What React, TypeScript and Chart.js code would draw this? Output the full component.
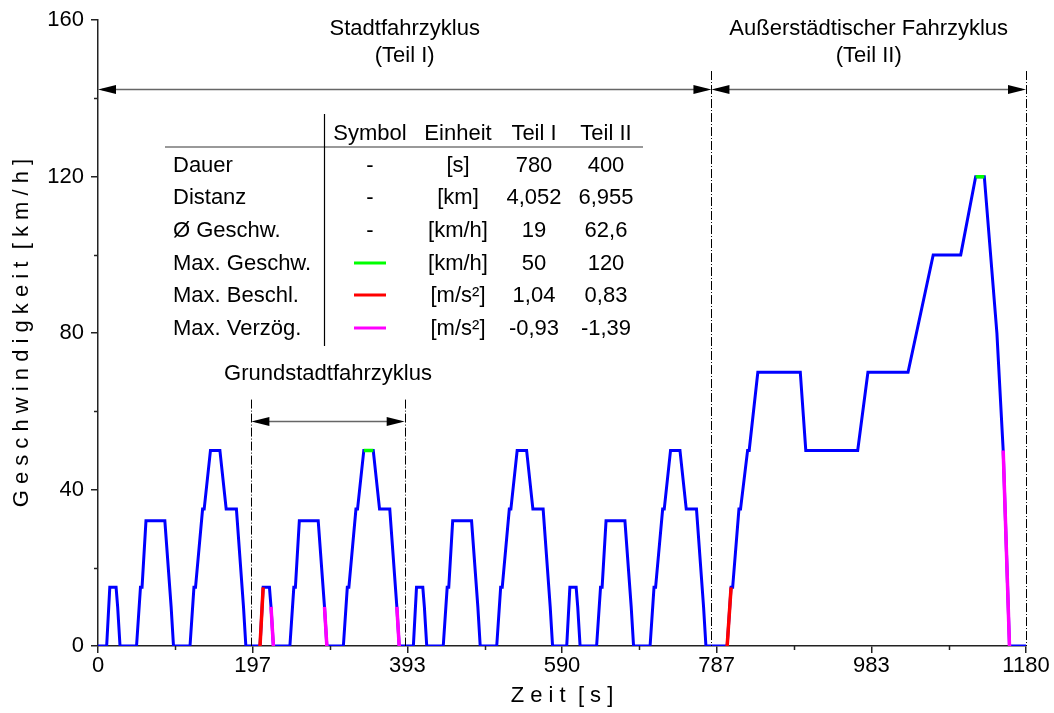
import React, { useEffect, useRef } from 'react';
import { Chart, registerables } from 'chart.js';

Chart.register(...registerables);

const FONT = '"Liberation Sans", Arial, Helvetica, sans-serif';
const AXIS_COLOR = '#222';

// ---- Data: ECE urban cycle (Grundstadtfahrzyklus), relative time [s] / speed [km/h]
const ECE_T = [0, 11, 15, 23, 25, 28, 49, 54, 56, 61, 85, 93, 96, 117, 122, 124, 133, 135, 143, 155, 163, 176, 185, 188, 195];
const ECE_V = [0, 0, 15, 15, 10, 0, 0, 15, 15, 32, 32, 10, 0, 0, 15, 15, 35, 35, 50, 50, 35, 35, 10, 0, 0];
const ECE_REPEATS = 4;
const ECE_LEN = 195;

// ---- Data: extra-urban cycle (Teil II), absolute time [s] / speed [km/h]
const EUDC_T = [780, 800, 805, 807, 815, 817, 826, 828, 839, 893, 900, 966, 979, 1030, 1062, 1097, 1116, 1127, 1143, 1151, 1159, 1180];
const EUDC_V = [0, 0, 15, 15, 35, 35, 50, 50, 70, 70, 50, 50, 70, 70, 100, 100, 120, 120, 80, 50, 0, 0];

// ---- Highlighted segments [t, v]
const MAX_SPEED_SEGS = [[[338, 50], [350, 50]], [[1116, 120], [1127, 120]]];
const MAX_ACCEL_SEGS = [[[206, 0], [210, 15]], [[800, 0], [805, 15]]];
const MAX_DECEL_SEGS = [[[220, 10], [223, 0]], [[288, 10], [291, 0]], [[380, 10], [383, 0]], [[1151, 50], [1159, 0]]];

// ---- Axis
const X_MAX = 1180;
const X_TICK_LABELS = ['0', '197', '393', '590', '787', '983', '1180'];
const Y_MAX = 160;
const Y_STEP = 40;

// ---- Annotations
const PART_BOUNDS = [0, 780, 1180];
const PART_TITLES = [['Stadtfahrzyklus', '(Teil I)'], ['Außerstädtischer Fahrzyklus', '(Teil II)']];
const BASE_BOUNDS = [195, 390];
const BASE_TITLE = 'Grundstadtfahrzyklus';

// ---- Table
const TABLE_HEAD = ['Symbol', 'Einheit', 'Teil I', 'Teil II'];
const ROW_LABELS = ['Dauer', 'Distanz', 'Ø Geschw.', 'Max. Geschw.', 'Max. Beschl.', 'Max. Verzög.'];
const ROW_UNITS = ['[s]', '[km]', '[km/h]', '[km/h]', '[m/s²]', '[m/s²]'];
const TEIL1 = ['780', '4,052', '19', '50', '1,04', '-0,93'];
const TEIL2 = ['400', '6,955', '62,6', '120', '0,83', '-1,39'];
const ROW_SYMBOL: (string | null)[] = [null, null, null, '#00ff00', '#ff0000', '#ff00ff'];

function buildMain() {
  const pts: { x: number; y: number }[] = [];
  for (let c = 0; c < ECE_REPEATS; c++) {
    ECE_T.forEach((t, i) => {
      if (c > 0 && i === 0) return;
      pts.push({ x: c * ECE_LEN + t, y: ECE_V[i] });
    });
  }
  EUDC_T.forEach((t, i) => {
    if (i === 0) return;
    pts.push({ x: t, y: EUDC_V[i] });
  });
  return pts;
}

function buildSegs(segs: number[][][]) {
  const pts: { x: number; y: number | null }[] = [];
  segs.forEach((s) => {
    s.forEach(([t, v]) => pts.push({ x: t, y: v }));
    pts.push({ x: s[s.length - 1][0], y: null });
  });
  return pts;
}

const overlay = {
  id: 'overlay',
  afterDraw(chart: any) {
    const { ctx, chartArea: ca, scales } = chart;
    const xs = scales.x;
    const ys = scales.y;
    const X = (v: number) => xs.getPixelForValue(v);
    const Y = (v: number) => ys.getPixelForValue(v);
    ctx.save();

    // minor ticks
    ctx.strokeStyle = AXIS_COLOR;
    ctx.lineWidth = 1.5;
    for (let i = 0; i < X_TICK_LABELS.length - 1; i++) {
      const px = Math.round(X(((i + 0.5) * X_MAX) / (X_TICK_LABELS.length - 1))) + 0.5;
      ctx.beginPath();
      ctx.moveTo(px, ca.bottom);
      ctx.lineTo(px, ca.bottom + 4);
      ctx.stroke();
    }
    for (let v = Y_STEP / 2; v < Y_MAX; v += Y_STEP) {
      const py = Math.round(Y(v)) + 0.5;
      ctx.beginPath();
      ctx.moveTo(ca.left - 4, py);
      ctx.lineTo(ca.left, py);
      ctx.stroke();
    }

    // dash-dot boundary lines
    ctx.strokeStyle = '#000';
    ctx.lineWidth = 1;
    ctx.setLineDash([9, 2, 1, 2]);
    const vline = (t: number, top: number) => {
      const px = Math.round(X(t)) + 0.5;
      ctx.beginPath();
      ctx.moveTo(px, Y(top));
      ctx.lineTo(px, ca.bottom);
      ctx.stroke();
    };
    vline(PART_BOUNDS[1], 147);
    vline(PART_BOUNDS[2], 147);
    vline(BASE_BOUNDS[0], 63);
    vline(BASE_BOUNDS[1], 63);
    ctx.setLineDash([]);

    // double arrows
    const arrow = (t1: number, t2: number, v: number) => {
      const x1 = X(t1);
      const x2 = X(t2);
      const y = Math.round(Y(v)) + 0.5;
      ctx.strokeStyle = '#666';
      ctx.lineWidth = 1.5;
      ctx.beginPath();
      ctx.moveTo(x1 + 4, y);
      ctx.lineTo(x2 - 4, y);
      ctx.stroke();
      ctx.fillStyle = '#000';
      ctx.beginPath();
      ctx.moveTo(x1, y);
      ctx.lineTo(x1 + 18, y - 4.5);
      ctx.lineTo(x1 + 18, y + 4.5);
      ctx.closePath();
      ctx.fill();
      ctx.beginPath();
      ctx.moveTo(x2, y);
      ctx.lineTo(x2 - 18, y - 4.5);
      ctx.lineTo(x2 - 18, y + 4.5);
      ctx.closePath();
      ctx.fill();
    };
    arrow(PART_BOUNDS[0], PART_BOUNDS[1], 142.5);
    arrow(PART_BOUNDS[1], PART_BOUNDS[2], 142.5);
    arrow(BASE_BOUNDS[0], BASE_BOUNDS[1], 57.6);

    // titles
    ctx.fillStyle = '#000';
    ctx.font = `22px ${FONT}`;
    ctx.textAlign = 'center';
    ctx.textBaseline = 'middle';
    PART_TITLES.forEach((lines, i) => {
      const cx = X((PART_BOUNDS[i] + PART_BOUNDS[i + 1]) / 2);
      lines.forEach((l, j) => ctx.fillText(l, cx, 29 + j * 27));
    });
    ctx.fillText(BASE_TITLE, X((BASE_BOUNDS[0] + BASE_BOUNDS[1]) / 2), 373.5);

    // table
    const headY = 134;
    const row0 = 165.5;
    const rowH = 32.7;
    const colX = [370, 458, 534, 606];
    TABLE_HEAD.forEach((h, i) => ctx.fillText(h, colX[i], headY));
    ROW_LABELS.forEach((lab, r) => {
      const y = row0 + r * rowH;
      ctx.textAlign = 'left';
      ctx.fillText(lab, 173, y);
      ctx.textAlign = 'center';
      const sym = ROW_SYMBOL[r];
      if (sym) {
        ctx.strokeStyle = sym;
        ctx.lineWidth = 3;
        ctx.beginPath();
        ctx.moveTo(354, Math.round(y) - 1);
        ctx.lineTo(386, Math.round(y) - 1);
        ctx.stroke();
      } else {
        ctx.fillText('-', colX[0], y);
      }
      ctx.fillText(ROW_UNITS[r], colX[1], y);
      ctx.fillText(TEIL1[r], colX[2], y);
      ctx.fillText(TEIL2[r], colX[3], y);
    });
    ctx.strokeStyle = '#777';
    ctx.lineWidth = 1.5;
    ctx.beginPath();
    ctx.moveTo(165, 147);
    ctx.lineTo(643, 147);
    ctx.stroke();
    ctx.strokeStyle = '#000';
    ctx.lineWidth = 1.2;
    ctx.beginPath();
    ctx.moveTo(324.5, 114);
    ctx.lineTo(324.5, 346);
    ctx.stroke();

    ctx.restore();
  },
};

export default function App() {
  const ref = useRef<HTMLCanvasElement | null>(null);
  useEffect(() => {
    if (!ref.current) return;
    const nTicks = X_TICK_LABELS.length - 1;
    const chart = new Chart(ref.current, {
      type: 'line',
      data: {
        datasets: [
          {
            data: buildSegs(MAX_SPEED_SEGS) as any,
            borderColor: '#00ff00',
            borderWidth: 3.5,
            pointRadius: 0,
            spanGaps: false,
            order: 0,
          },
          {
            data: buildSegs(MAX_ACCEL_SEGS) as any,
            borderColor: '#ff0000',
            borderWidth: 3.5,
            pointRadius: 0,
            spanGaps: false,
            order: 0,
          },
          {
            data: buildSegs(MAX_DECEL_SEGS) as any,
            borderColor: '#ff00ff',
            borderWidth: 3.5,
            pointRadius: 0,
            spanGaps: false,
            order: 0,
          },
          {
            data: buildMain() as any,
            borderColor: '#0000ff',
            borderWidth: 3,
            borderJoinStyle: 'miter',
            pointRadius: 0,
            tension: 0,
            order: 1,
          },
        ],
      },
      options: {
        animation: false,
        responsive: false,
        events: [],
        layout: { padding: { top: 20, right: 28, left: 0, bottom: 0 } },
        plugins: { legend: { display: false }, tooltip: { enabled: false } },
        scales: {
          x: {
            type: 'linear',
            min: 0,
            max: X_MAX,
            afterBuildTicks: (s: any) => {
              s.ticks = X_TICK_LABELS.map((_, i) => ({ value: (i * X_MAX) / nTicks }));
            },
            afterFit: (s: any) => {
              s.height = 67;
            },
            ticks: {
              autoSkip: false,
              maxRotation: 0,
              padding: 0,
              color: '#000',
              font: { family: FONT, size: 22 },
              callback: (v: any, i: number) => X_TICK_LABELS[i],
            },
            grid: {
              display: true,
              drawOnChartArea: false,
              drawTicks: true,
              tickLength: 7,
              color: AXIS_COLOR,
              lineWidth: 1.5,
            },
            border: { display: true, color: AXIS_COLOR, width: 1.5 },
            title: {
              display: true,
              text: 'Z e i t  [ s ]',
              color: '#000',
              font: { family: FONT, size: 22 },
              padding: { top: 0, bottom: 4 },
            },
          },
          y: {
            type: 'linear',
            min: 0,
            max: Y_MAX,
            afterFit: (s: any) => {
              s.width = 98;
            },
            ticks: {
              stepSize: Y_STEP,
              padding: 7,
              color: '#000',
              font: { family: FONT, size: 22 },
            },
            grid: {
              display: true,
              drawOnChartArea: false,
              drawTicks: true,
              tickLength: 7,
              color: AXIS_COLOR,
              lineWidth: 1.5,
            },
            border: { display: true, color: AXIS_COLOR, width: 1.5 },
            title: {
              display: true,
              text: 'G e s c h w i n d i g k e i t  [ k m / h ]',
              color: '#000',
              font: { family: FONT, size: 22 },
              padding: { top: 9, bottom: 0 },
            },
          },
        },
      },
      plugins: [overlay],
    } as any);
    return () => chart.destroy();
  }, []);
  return (
    <div style={{ position: 'fixed', left: 0, top: 0, width: 1054, height: 713, background: '#fff' }}>
      <canvas ref={ref} width={1054} height={713} style={{ display: 'block', width: 1054, height: 713 }} />
    </div>
  );
}
